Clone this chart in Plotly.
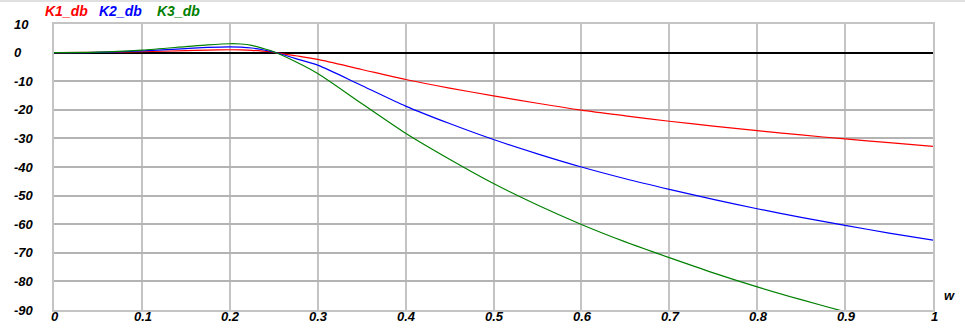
import plotly.graph_objects as go

w = [0, 0.05, 0.1, 0.15, 0.175, 0.2, 0.2125, 0.225, 0.2375, 0.25, 0.275, 0.3, 0.35, 0.4, 0.45, 0.5,
     0.55, 0.6, 0.65, 0.7, 0.75, 0.8, 0.85, 0.9, 0.95, 1.0]
K1_db = [0, 0.05, 0.3, 0.7, 0.9, 1.0, 0.95, 0.8, 0.5, 0.1, -1.1, -2.4, -5.9, -9.4, -12.4, -15.1,
         -17.7, -20.1, -22.1, -24.0, -25.7, -27.3, -28.8, -30.2, -31.5, -32.8]
K2_db = [0, 0.1, 0.6, 1.4, 1.8, 2.0, 1.9, 1.6, 1.0, 0.2, -2.1, -4.4, -11.5, -18.7, -24.8, -30.4,
         -35.4, -40.0, -44.1, -47.8, -51.3, -54.6, -57.6, -60.4, -63.1, -65.6]
K3_db = [0, 0.15, 0.9, 2.1, 2.7, 3.1, 3.0, 2.5, 1.5, 0.3, -3.2, -7.3, -17.8, -28.2, -37.3, -45.8,
         -53.3, -60.1, -66.2, -71.7, -77.0, -81.9, -86.4, -90.6, -94.6, -98.4]

series = [("K1_db", K1_db, "#ff0000"), ("K2_db", K2_db, "#0000ff"), ("K3_db", K3_db, "#008000")]

x_ticks = [0, 0.1, 0.2, 0.3, 0.4, 0.5, 0.6, 0.7, 0.8, 0.9, 1]
x_tick_labels = ["0", "0.1", "0.2", "0.3", "0.4", "0.5", "0.6", "0.7", "0.8", "0.9", "1"]
y_ticks = [10, 0, -10, -20, -30, -40, -50, -60, -70, -80, -90]

W, H = 965, 329
ML, MR, MT, MB = 54, 32, 24, 19
PW, PH = W - ML - MR, H - MT - MB

fig = go.Figure()
for name, vals, col in series:
    fig.add_trace(go.Scatter(x=w, y=vals, mode="lines", name=name,
                             line=dict(color=col, width=1.2, shape="spline", smoothing=0.8),
                             showlegend=False, cliponaxis=True))

tickfont = dict(family="Liberation Sans, Arial", size=13, color="#000000",
                weight="bold", style="italic")

fig.update_layout(
    width=W, height=H, margin=dict(l=ML, r=MR, t=MT, b=MB, autoexpand=False),
    paper_bgcolor="#ffffff", plot_bgcolor="#ffffff",
    xaxis=dict(range=[0, 1], tickvals=x_ticks, showticklabels=False, automargin=False,
               showgrid=True, gridcolor="#c4c4c4", gridwidth=2,
               zeroline=False, showline=True, linecolor="#c4c4c4", linewidth=2,
               mirror=True, ticks=""),
    yaxis=dict(range=[-90, 10], tickvals=y_ticks, showticklabels=False, automargin=False,
               showgrid=True, gridcolor="#b4b4b4", gridwidth=1.5,
               zeroline=True, zerolinecolor="#000000", zerolinewidth=1.5,
               showline=True, linecolor="#c4c4c4", linewidth=2, mirror=True, ticks=""),
)

# left-aligned y tick labels
for v in y_ticks:
    fig.add_annotation(x=(12 - ML) / PW, xref="paper", y=v, yref="y", text=str(v),
                       showarrow=False, xanchor="left", yanchor="middle", font=tickfont)

# x tick labels just below the axis
for v, t in zip(x_ticks, x_tick_labels):
    fig.add_annotation(x=v, xref="x", y=-(317 - (MT + PH)) / PH, yref="paper", text=t,
                       showarrow=False, xanchor="center", yanchor="middle", xshift=1,
                       font=tickfont)

# legend-like titles at top
legend_x = [43, 97, 155]
for (name, vals, col), px in zip(series, legend_x):
    fig.add_annotation(x=(px - ML) / PW, xref="paper", y=1 + (MT - 11) / PH, yref="paper",
                       text=name, showarrow=False, xanchor="left", yanchor="middle",
                       font=dict(family="Liberation Sans, Arial", size=14, color=col,
                                 weight="bold", style="italic"))

# axis label w
fig.add_annotation(x=(950 - ML) / PW, xref="paper", y=1 - (295 - MT) / PH, yref="paper",
                   text="w", showarrow=False, xanchor="center", yanchor="middle",
                   font=tickfont)

# thin grey bar at top of the window
fig.add_shape(type="rect", xref="paper", yref="paper",
              x0=-ML / PW, x1=1 + MR / PW, y0=1 + (MT - 2) / PH, y1=1 + MT / PH,
              fillcolor="#e0e0e0", line=dict(width=0), layer="below")

fig.write_html("out.html")
